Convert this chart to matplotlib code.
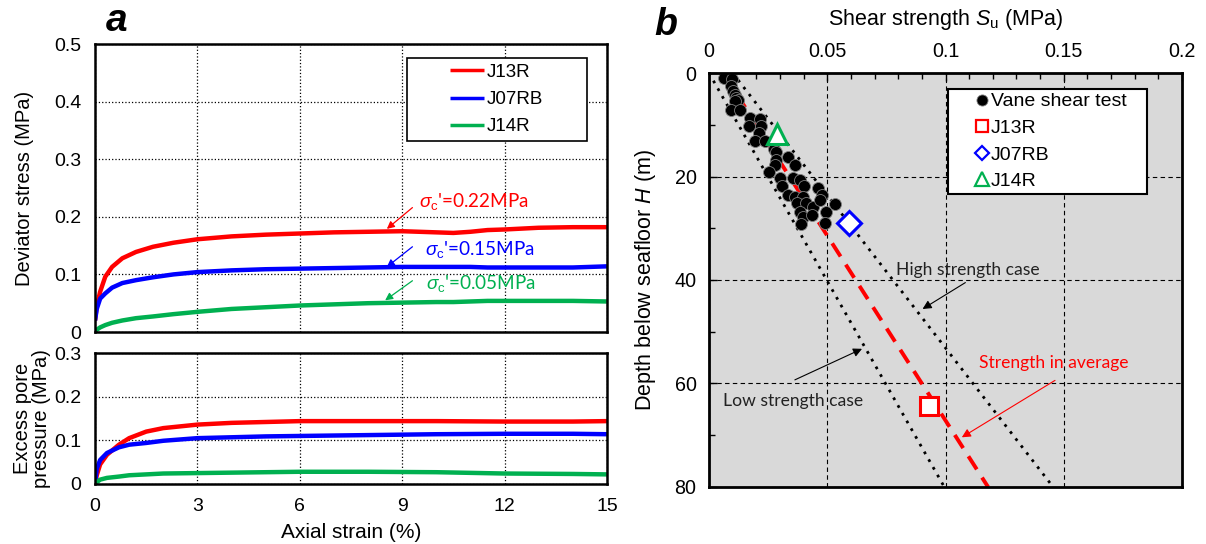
import numpy as np
import matplotlib
matplotlib.use("Agg")
import matplotlib.pyplot as plt
from matplotlib.legend_handler import HandlerLine2D

plt.rcParams["font.family"] = ["Liberation Sans", "DejaVu Sans"]
plt.rcParams["mathtext.fontset"] = "custom"
plt.rcParams["mathtext.rm"] = "Liberation Sans"
plt.rcParams["mathtext.it"] = "Liberation Sans:italic"

RED, BLUE, GREEN = "#ff0000", "#0000ff", "#00b050"
NOTE_FONT = ["Lato", "DejaVu Sans"]

# ---- panel a: triaxial tests
strain_q = [0, 0.05, 0.15, 0.3, 0.5, 0.8, 1.2, 1.7, 2.3, 3, 4, 5, 6, 7, 8,
            9, 10, 10.5, 11, 11.5, 12, 13, 14, 15]
q_j13r = [0.02, 0.045, 0.07, 0.096, 0.113, 0.128, 0.139, 0.148, 0.155, 0.161,
          0.166, 0.169, 0.171, 0.173, 0.174, 0.175, 0.173, 0.172, 0.174, 0.177,
          0.178, 0.181, 0.182, 0.182]
q_j07rb = [0.02, 0.04, 0.058, 0.067, 0.077, 0.085, 0.09, 0.095, 0.1, 0.104,
           0.107, 0.109, 0.11, 0.111, 0.112, 0.113, 0.113, 0.113, 0.113, 0.112,
           0.112, 0.112, 0.112, 0.114]
q_j14r = [0.0, 0.004, 0.008, 0.012, 0.016, 0.02, 0.024, 0.027, 0.031, 0.035,
          0.04, 0.043, 0.046, 0.048, 0.05, 0.051, 0.052, 0.052, 0.053, 0.054,
          0.054, 0.054, 0.054, 0.053]

strain_u = [0, 0.05, 0.15, 0.35, 0.7, 1.0, 1.5, 2, 3, 4, 5, 6, 8, 10, 12, 14, 15]
u_j13r = [0.0, 0.02, 0.045, 0.067, 0.09, 0.105, 0.12, 0.128, 0.136, 0.14,
          0.142, 0.144, 0.144, 0.144, 0.143, 0.143, 0.144]
u_j07rb = [0.0, 0.035, 0.055, 0.071, 0.084, 0.09, 0.094, 0.099, 0.105, 0.107,
           0.109, 0.11, 0.112, 0.114, 0.115, 0.115, 0.114]
u_j14r = [0.0, 0.004, 0.01, 0.014, 0.017, 0.02, 0.022, 0.024, 0.025, 0.026,
          0.027, 0.028, 0.028, 0.027, 0.024, 0.023, 0.022]

series_names = ["J13R", "J07RB", "J14R"]
confining = ["0.22", "0.15", "0.05"]

# ---- panel b: vane shear test profile
vane_su = [0.0062, 0.0099, 0.0095, 0.0102, 0.0109, 0.0116, 0.0123, 0.0109,
           0.0095, 0.0133, 0.0175, 0.0215, 0.017, 0.0218, 0.0212, 0.0194,
           0.0236, 0.0274, 0.0285, 0.0282, 0.0278, 0.0335, 0.0363, 0.0254,
           0.030, 0.0307, 0.0356, 0.0384, 0.0401, 0.0335, 0.0363, 0.0398,
           0.0462, 0.0476, 0.037, 0.0412, 0.044, 0.0384, 0.0398, 0.0387,
           0.0494, 0.0532, 0.049, 0.0434, 0.0469]
vane_h = [0.97, 1.16, 2.6, 3.5, 4.2, 4.8, 5.2, 5.5, 7.2, 7.2, 8.7, 8.9, 10.2,
          10.2, 11.5, 13.1, 13.1, 14.7, 15.2, 16.8, 17.7, 16.3, 17.7, 19.2,
          20.3, 21.9, 20.3, 20.6, 21.8, 23.5, 23.9, 23.9, 22.3, 23.5, 25.2,
          25.2, 25.8, 26.8, 27.9, 29.2, 26.8, 25.3, 29.0, 27.4, 24.5]
sample_su = [0.093, 0.0593, 0.0288]      # J13R, J07RB, J14R
sample_h = [64.4, 29.0, 11.7]

depth_line = [0, 80]
su_high = [0.010, 0.1455]
su_low = [0.0, 0.0995]
su_avg = [0.006, 0.118]


class ShiftedHandle(HandlerLine2D):
    """Legend handle drawn only over a fraction [a, b] of the handle box."""

    def __init__(self, a, b, **kw):
        super().__init__(**kw)
        self.a, self.b = a, b

    def get_xdata(self, legend, xdescent, ydescent, width, height, fontsize):
        x = np.array([-xdescent + self.a * width, -xdescent + self.b * width])
        return x, x


fig = plt.figure(figsize=(12.06, 5.44), dpi=100)
ax1 = fig.add_axes([0.0788, 0.3897, 0.4245, 0.5294])
ax2 = fig.add_axes([0.0788, 0.1103, 0.4245, 0.2408])
ax3 = fig.add_axes([0.5879, 0.1048, 0.3922, 0.7610])

colors = [RED, BLUE, GREEN]
lines_a = []
for name, c, q in zip(series_names, colors, [q_j13r, q_j07rb, q_j14r]):
    ln, = ax1.plot(strain_q, q, color=c, lw=3.2, label=name,
                   solid_capstyle="butt")
    lines_a.append(ln)
for c, u in zip(colors, [u_j13r, u_j07rb, u_j14r]):
    ax2.plot(strain_u, u, color=c, lw=3.2)

for ax, top in ((ax1, 0.5), (ax2, 0.3)):
    ax.set_xlim(0, 15)
    ax.set_ylim(0, top)
    ax.set_xticks(np.arange(0, 16, 3))
    ax.set_yticks(np.arange(0, top + 0.01, 0.1))
    ax.yaxis.set_major_formatter(matplotlib.ticker.FuncFormatter(
        lambda v, p: "0" if abs(v) < 1e-9 else f"{v:.1f}"))
    ax.grid(True, color="black", ls=":", lw=0.9)
    ax.tick_params(length=0, labelsize=14, pad=10)
    for s in ax.spines.values():
        s.set_linewidth(1.8)
ax1.tick_params(labelbottom=False)
ax2.set_xlabel("Axial strain (%)", fontsize=15, labelpad=6)
ax1.set_ylabel("Deviator stress (MPa)", fontsize=14.5, labelpad=14)
ax2.set_ylabel("Excess pore\npressure (MPa)", fontsize=14.5, labelpad=2,
               linespacing=1.0)

leg = ax1.legend(handles=lines_a, loc="upper left",
                 bbox_to_anchor=(0.609, 0.5, 0.352, 0.451), mode="expand",
                 fontsize=13.5, frameon=True, fancybox=False,
                 edgecolor="black", framealpha=1, handlelength=3.82,
                 handletextpad=0.15, borderpad=0.3, labelspacing=0.54,
                 borderaxespad=0,
                 handler_map={ln: ShiftedHandle(0.52, 1.0) for ln in lines_a})
leg.get_frame().set_linewidth(1.2)
for h in leg.legend_handles:
    h.set_linewidth(2.5)

# sigma_c' annotations: text start, arrow tail, arrow head
note_xy = [(9.5, 0.226), (9.66, 0.143), (9.71, 0.085)]
tail_xy = [(9.3, 0.216), (9.3, 0.148), (9.3, 0.089)]
head_xy = [(8.55, 0.179), (8.55, 0.113), (8.5, 0.055)]
for c, p, nxy, txy, hxy in zip(colors, confining, note_xy, tail_xy, head_xy):
    ax1.text(nxy[0], nxy[1], r"$\sigma_\mathrm{c}$'=" + p + "MPa", color=c,
             fontsize=13.6, family=NOTE_FONT, va="center", ha="left")
    ax1.annotate("", xy=hxy, xytext=txy,
                 arrowprops=dict(arrowstyle="-|>", color=c, lw=0.9,
                                 mutation_scale=11, shrinkA=0, shrinkB=0))

# ---- panel b
ax3.set_facecolor("#d9d9d9")
ax3.plot(su_high, depth_line, color="black", ls=(0, (1, 2.2)), lw=2.0)
ax3.plot(su_low, depth_line, color="black", ls=(0, (1, 2.2)), lw=2.0)
ax3.plot(su_avg, depth_line, color=RED, ls=(0, (4, 2.5)), lw=2.8)
h_vane, = ax3.plot(vane_su, vane_h, ls="none", marker="o", ms=8.6,
                   mfc="black", mec="#7f7f7f", mew=0.6, label="Vane shear test")
h_sq, = ax3.plot(sample_su[0], sample_h[0], ls="none", marker="s", ms=13,
                 mfc="white", mec=RED, mew=2.2, label="J13R")
h_di, = ax3.plot(sample_su[1], sample_h[1], ls="none", marker="D", ms=12,
                 mfc="white", mec=BLUE, mew=2.2, label="J07RB")
h_tr, = ax3.plot(sample_su[2], sample_h[2], ls="none", marker="^", ms=14.5,
                 mfc="white", mec=GREEN, mew=2.2, label="J14R")

ax3.set_xlim(0, 0.2)
ax3.set_ylim(80, 0)
ax3.xaxis.tick_top()
ax3.xaxis.set_label_position("top")
ax3.set_xticks([0, 0.05, 0.1, 0.15, 0.2])
ax3.set_xticklabels(["0", "0.05", "0.1", "0.15", "0.2"])
ax3.set_xticks(np.arange(0, 0.2001, 0.01), minor=True)
ax3.set_yticks([0, 20, 40, 60, 80])
ax3.set_yticks([10, 30, 50, 70], minor=True)
ax3.tick_params(which="both", direction="in", labelsize=14.2, pad=9,
                top=True, bottom=False, left=True, right=False)
ax3.tick_params(which="major", length=6, width=1.0)
ax3.tick_params(which="minor", length=4, width=1.0)
ax3.grid(True, which="major", color="black", ls=(0, (4, 3)), lw=0.8)
for s in ax3.spines.values():
    s.set_linewidth(2.0)
ax3.set_xlabel(r"Shear strength $\mathit{S}_\mathrm{u}$ (MPa)", fontsize=15.5,
               labelpad=12)
ax3.set_ylabel(r"Depth below seafloor $\mathit{H}$ (m)", fontsize=15.5,
               labelpad=12)

handles_b = [h_vane, h_sq, h_di, h_tr]
leg3 = ax3.legend(handles=handles_b, loc="upper left",
                  bbox_to_anchor=(0.5045, 0.5, 0.4205, 0.4625), mode="expand",
                  fontsize=14, frameon=True, fancybox=False,
                  edgecolor="black", framealpha=1, handlelength=1.84,
                  handletextpad=0.15, borderpad=0.22, labelspacing=0.46,
                  borderaxespad=0,
                  handler_map={h: ShiftedHandle(0.8, 0.86) for h in handles_b})
leg3.get_frame().set_linewidth(1.5)
for h, ms in zip(leg3.legend_handles, [8, 8.5, 7.5, 10]):
    h.set_markersize(ms)
    if h.get_marker() != "o":
        h.set_markeredgewidth(1.6)

ax3.text(0.0792, 38.1, "High strength case", fontsize=12.6, family=NOTE_FONT,
         color="#222222", va="center", ha="left")
ax3.annotate("", xy=(0.0903, 45.6), xytext=(0.1084, 40.5),
             arrowprops=dict(arrowstyle="-|>", color="black", lw=0.8,
                             mutation_scale=13, shrinkA=0, shrinkB=0))
ax3.text(0.0058, 63.4, "Low strength case", fontsize=12.6, family=NOTE_FONT,
         color="#222222", va="center", ha="left")
ax3.annotate("", xy=(0.0647, 53.3), xytext=(0.0363, 59.3),
             arrowprops=dict(arrowstyle="-|>", color="black", lw=0.8,
                             mutation_scale=13, shrinkA=0, shrinkB=0))
ax3.text(0.114, 56.0, "Strength in average", fontsize=12.6, family=NOTE_FONT,
         color=RED, va="center", ha="left")
ax3.annotate("", xy=(0.1069, 70.4), xytext=(0.1463, 59.4),
             arrowprops=dict(arrowstyle="-|>", color=RED, lw=0.8,
                             mutation_scale=13, shrinkA=0, shrinkB=0))

# panel letters (heavy italic)
fig.text(106 / 1206, 1 - 31 / 544, "a", fontsize=28, weight="heavy",
         style="italic", ha="left", va="baseline")
fig.text(654 / 1206, 1 - 35 / 544, "b", fontsize=27, weight="heavy",
         style="italic", ha="left", va="baseline")

fig.savefig("out.png", dpi=100)
